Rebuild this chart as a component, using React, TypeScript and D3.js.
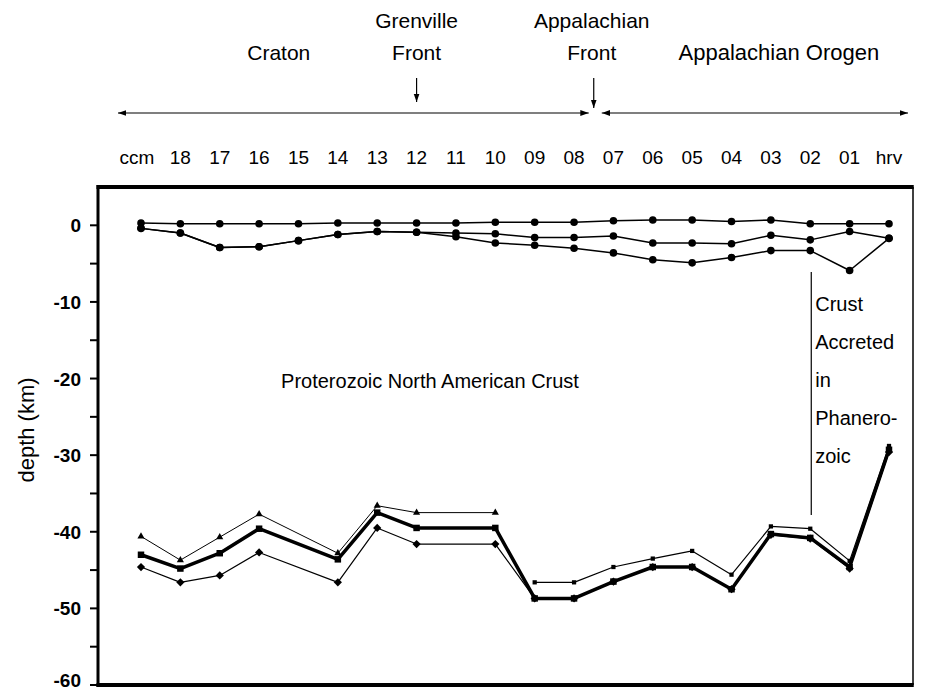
import React from 'react';
import * as d3 from 'd3';

// station names, west (ccm) to east (hrv)
const stations = ['ccm', '18', '17', '16', '15', '14', '13', '12', '11', '10', '09', '08', '07', '06', '05', '04', '03', '02', '01', 'hrv'];

// shallow layers (km)
const surfaceTop = [0.3, 0.2, 0.2, 0.2, 0.2, 0.3, 0.3, 0.3, 0.3, 0.4, 0.4, 0.4, 0.6, 0.7, 0.7, 0.5, 0.7, 0.2, 0.2, 0.2];
const surfaceMid = [-0.4, -1.0, -2.9, -2.8, -2.0, -1.2, -0.8, -0.9, -1.0, -1.1, -1.6, -1.6, -1.4, -2.3, -2.3, -2.4, -1.3, -1.9, -0.8, -1.7];
const surfaceLow = [-0.4, -1.0, -2.9, -2.8, -2.0, -1.2, -0.8, -0.9, -1.5, -2.3, -2.6, -3.0, -3.6, -4.5, -4.9, -4.2, -3.3, -3.3, -5.9, -1.7];

// moho depth (km), null = no estimate
const mohoUpperWest = [-40.6, -43.7, -40.7, -37.7, null, -42.8, -36.6, -37.5, null, -37.5, null, null, null, null, null, null, null, null, null, null];
const mohoUpperEast = [null, null, null, null, null, null, null, null, null, null, -46.6, -46.6, -44.6, -43.5, -42.5, -45.6, -39.3, -39.6, -43.8, -28.8];
const mohoBest = [-43.0, -44.8, -42.8, -39.6, null, -43.6, -37.5, -39.5, null, -39.5, -48.7, -48.7, -46.5, -44.6, -44.6, -47.5, -40.3, -40.8, -44.6, -29.3];
const mohoLower = [-44.6, -46.6, -45.7, -42.7, null, -46.6, -39.5, -41.6, null, -41.6, -48.7, -48.7, -46.5, -44.6, -44.6, -47.5, -40.4, -40.9, -44.8, -29.6];

const yTicks = [0, -10, -20, -30, -40, -50, -60];
const yMinorTicks = [-5, -15, -25, -35, -45, -55];

const W = 928;
const H = 692;
const left = 98;
const right = 913;
const top = 187;
const bottom = 685;
const font = '"Liberation Sans", Arial, Helvetica, sans-serif';

const x = d3.scalePoint<string>().domain(stations).range([141, 889]);
const y = d3.scaleLinear().domain([-60, 5]).range([bottom, top]);

type Pt = [string, number];
const pts = (vals: (number | null)[]): Pt[] =>
  stations.map((s, i) => [s, vals[i]] as [string, number | null]).filter((d) => d[1] != null) as Pt[];

const line = d3
  .line<Pt>()
  .x((d) => x(d[0])!)
  .y((d) => y(d[1]));

const tri = d3.symbol(d3.symbolTriangle, 22)();
const sq = d3.symbol(d3.symbolSquare, 42)();
const smallSq = d3.symbol(d3.symbolSquare, 18)();
const diamond = d3.symbol(d3.symbolSquare, 34)();

const Series = ({ vals, width, marker }: { vals: (number | null)[]; width: number; marker: (d: Pt, i: number) => React.ReactNode }) => {
  const p = pts(vals);
  return (
    <g>
      <path d={line(p) || ''} fill="none" stroke="#000" strokeWidth={width} strokeLinejoin="round" />
      {p.map(marker)}
    </g>
  );
};

const at = (d: Pt) => `translate(${x(d[0])},${y(d[1])})`;

export default function App() {
  const xa = (s: string) => x(s)!;
  const xFront = (xa('08') + xa('07')) / 2;
  return (
    <svg width={W} height={H} style={{ position: 'absolute', left: 0, top: 0, background: '#fff' }} fontFamily={font}>
      {/* top annotations */}
      <g fontSize={21} textAnchor="middle" fill="#000">
        <text x={xa('12')} y={28}>Grenville</text>
        <text x={xa('12')} y={60}>Front</text>
        <text x={(xa('16') + xa('15')) / 2} y={60}>Craton</text>
        <text x={xFront - 2} y={28}>Appalachian</text>
        <text x={xFront - 2} y={60}>Front</text>
        <text x={xa('03') + 8} y={60} fontSize={22}>Appalachian Orogen</text>
      </g>
      <defs>
        <marker id="ah" viewBox="0 0 10 10" refX="10" refY="5" markerWidth="7" markerHeight="7" orient="auto-start-reverse">
          <path d="M0,1.5 L10,5 L0,8.5 Z" fill="#000" />
        </marker>
      </defs>
      <g stroke="#000" strokeWidth={1.2}>
        <line x1={xa('12')} x2={xa('12')} y1={78} y2={102} markerEnd="url(#ah)" />
        <line x1={xFront} x2={xFront} y1={78} y2={108} markerEnd="url(#ah)" />
        <line x1={xa('ccm') - 23} x2={xFront - 5} y1={113} y2={113} markerStart="url(#ah)" markerEnd="url(#ah)" />
        <line x1={xFront + 8} x2={xa('hrv') + 19} y1={113} y2={113} markerStart="url(#ah)" markerEnd="url(#ah)" />
      </g>
      <g fontSize={19} textAnchor="middle">
        {stations.map((s) => (
          <text key={s} x={xa(s) - (s === 'ccm' ? 4 : 0)} y={164}>{s}</text>
        ))}
      </g>

      {/* frame */}
      <line x1={right} x2={right} y1={top} y2={bottom} stroke="#000" strokeWidth={1.5} />
      <line x1={left - 1.5} x2={right + 0.75} y1={top} y2={top} stroke="#000" strokeWidth={4} />
      <line x1={left - 1.5} x2={right + 0.75} y1={bottom} y2={bottom} stroke="#000" strokeWidth={4} />
      <line x1={left} x2={left} y1={top - 2} y2={bottom + 2} stroke="#000" strokeWidth={3} />

      {/* y axis */}
      <g stroke="#000" strokeWidth={2}>
        {yTicks.concat(yMinorTicks).map((t) => (
          <line key={t} x1={left - 8} x2={left} y1={y(t)} y2={y(t)} />
        ))}
      </g>
      <g fontSize={19} fontWeight="bold" textAnchor="end">
        {yTicks.map((t) => (
          <text key={t} x={81} y={Math.min(y(t) + 7, 687)}>{t}</text>
        ))}
      </g>
      <text transform={`translate(34,${(top + bottom) / 2 - 6}) rotate(-90)`} textAnchor="middle" fontSize={22}>
        depth (km)
      </text>

      {/* shallow layers */}
      <Series vals={surfaceTop} width={1.5} marker={(d, i) => <circle key={i} cx={x(d[0])} cy={y(d[1])} r={3.8} />} />
      <Series vals={surfaceMid} width={1.5} marker={(d, i) => <circle key={i} cx={x(d[0])} cy={y(d[1])} r={3.8} />} />
      <Series vals={surfaceLow} width={1.5} marker={(d, i) => <circle key={i} cx={x(d[0])} cy={y(d[1])} r={3.8} />} />

      {/* moho */}
      <Series vals={mohoUpperWest} width={1} marker={(d, i) => <path key={i} d={tri!} transform={at(d)} />} />
      <Series vals={mohoUpperEast} width={1.2} marker={(d, i) => <path key={i} d={smallSq!} transform={at(d)} />} />
      <Series vals={mohoBest} width={3.5} marker={(d, i) => <path key={i} d={sq!} transform={at(d)} />} />
      <Series vals={mohoLower} width={1.2} marker={(d, i) => <path key={i} d={diamond!} transform={`${at(d)} rotate(45)`} />} />

      {/* region labels */}
      <text x={430} y={388} fontSize={20} textAnchor="middle">Proterozoic North American Crust</text>
      <line x1={xa('02') + 1} x2={xa('02') + 1} y1={272} y2={515} stroke="#000" strokeWidth={1.2} />
      <g fontSize={20}>
        {['Crust', 'Accreted', 'in', 'Phanero-', 'zoic'].map((w, i) => (
          <text key={w} x={xa('02') + 5} y={311 + i * 38}>{w}</text>
        ))}
      </g>
    </svg>
  );
}
